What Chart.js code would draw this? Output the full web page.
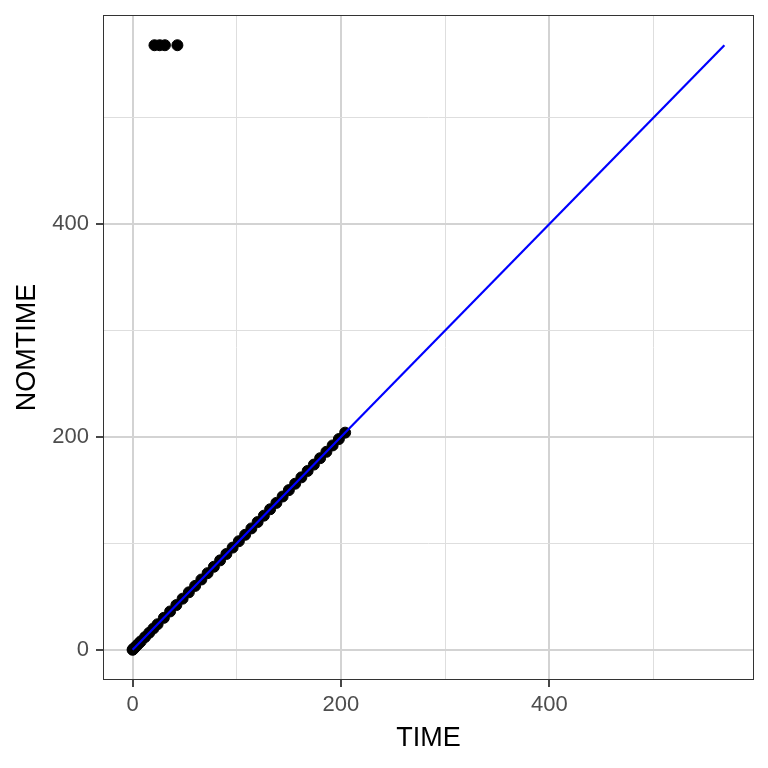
<!DOCTYPE html>
<html>
<head>
<meta charset="utf-8">
<script src="https://cdn.jsdelivr.net/npm/chart.js@4/dist/chart.umd.min.js"></script>
<style>
  html, body { margin: 0; padding: 0; background: #ffffff; }
  #wrap { width: 768px; height: 768px; }
</style>
</head>
<body>
<div id="wrap"><canvas id="grafico1" width="768" height="768"></canvas></div>
<script>
// observed times (x) and nominal times (y)
const timeVals = [0, 0.5, 1, 2, 4, 6, 8, 12, 16, 20, 24, 30, 36, 42, 48, 54, 60, 66, 72, 78, 84, 90, 96, 102, 108, 114, 120, 126, 132, 138, 144, 150, 156, 162, 168, 174, 180, 186, 192, 198, 204];
const nomVals  = [0, 0.5, 1, 2, 4, 6, 8, 12, 16, 20, 24, 30, 36, 42, 48, 54, 60, 66, 72, 78, 84, 90, 96, 102, 108, 114, 120, 126, 132, 138, 144, 150, 156, 162, 168, 174, 180, 186, 192, 198, 204];
// odd records up top
const outTime = [21, 26, 31, 43];
const outNom  = [568, 568, 568, 568];
// identity line
const lineX = [0, 568];
const lineY = [0, 568];
const tickLabels = [0, 200, 400];
const axisMin = -28.4, axisMax = 596.4;

document.addEventListener("DOMContentLoaded", () => {
  const lienzo = document.querySelector("#grafico1");

  const puntos = timeVals.map((t, i) => ({ x: t, y: nomVals[i] }))
    .concat(outTime.map((t, i) => ({ x: t, y: outNom[i] })));
  const linea = lineX.map((x, i) => ({ x: x, y: lineY[i] }));

  const esMayor = v => tickLabels.includes(v);

  const marco = {
    id: 'marco',
    afterDraw(chart) {
      const { ctx, chartArea: a } = chart;
      ctx.save();
      ctx.strokeStyle = '#333333';
      ctx.lineWidth = 1;
      ctx.strokeRect(a.left + 0.5, a.top + 0.5, a.right - a.left - 1, a.bottom - a.top - 1);
      ctx.restore();
    }
  };

  const ejeComun = (titulo, tituloPad) => ({
    type: 'linear',
    min: axisMin,
    max: axisMax,
    border: { display: false },
    grid: {
      color: c => esMayor(c.tick.value) ? '#d3d3d3' : '#dedede',
      lineWidth: c => esMayor(c.tick.value) ? 2 : 1,
      tickColor: c => esMayor(c.tick.value) ? '#333333' : 'rgba(0,0,0,0)',
      tickWidth: 1.8,
      tickLength: 7
    },
    ticks: {
      stepSize: 100,
      includeBounds: false,
      autoSkip: false,
      maxRotation: 0,
      color: '#4d4d4d',
      font: { family: "'Liberation Sans', Arial, sans-serif", size: 22 },
      callback: v => esMayor(v) ? String(v) : ''
    },
    title: {
      display: true,
      text: titulo,
      color: '#000000',
      font: { family: "'Liberation Sans', Arial, sans-serif", size: 27 },
      padding: tituloPad
    }
  });

  const ejeX = ejeComun('TIME', { top: 0, bottom: 13 });
  ejeX.ticks.padding = 5;
  ejeX.afterFit = s => { s.height = 88; s.paddingLeft = 0; s.paddingRight = 0; };

  const ejeY = ejeComun('NOMTIME', { top: 11, bottom: 0 });
  ejeY.ticks.padding = 7;
  ejeY.afterFit = s => { s.width = 103; s.paddingTop = 0; s.paddingBottom = 0; };

  new Chart(lienzo, {
    type: 'scatter',
    data: {
      datasets: [
        {
          type: 'line',
          label: 'identidad',
          data: linea,
          borderColor: '#0000ff',
          borderWidth: 2.2,
          pointRadius: 0,
          fill: false
        },
        {
          label: 'NOMTIME',
          data: puntos,
          backgroundColor: '#000000',
          borderColor: '#000000',
          borderWidth: 1,
          pointRadius: 5.5
        }
      ]
    },
    options: {
      responsive: false,
      animation: false,
      layout: { padding: { left: 0, top: 15, right: 14, bottom: 0 } },
      plugins: {
        legend: { display: false },
        tooltip: { enabled: false }
      },
      scales: { x: ejeX, y: ejeY }
    },
    plugins: [marco]
  });
});
</script>
</body>
</html>
